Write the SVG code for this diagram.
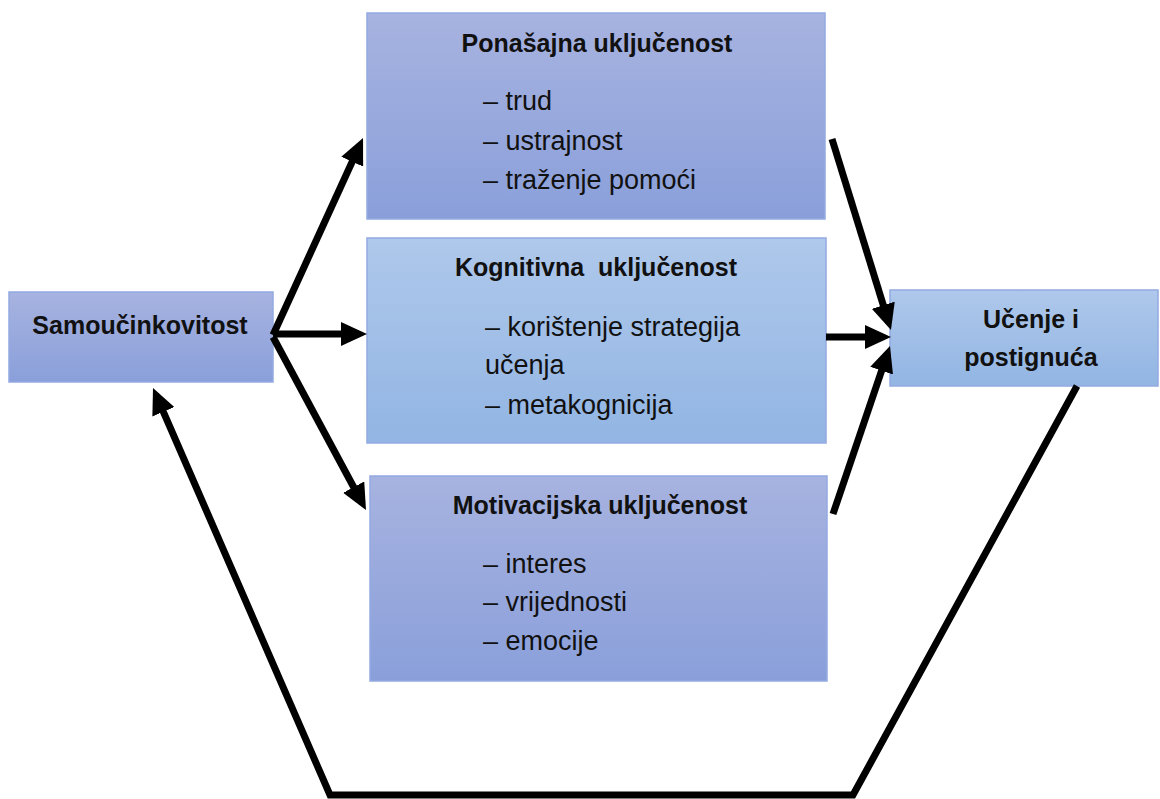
<svg xmlns="http://www.w3.org/2000/svg" width="1160" height="799" viewBox="0 0 1160 799">
<defs>
<linearGradient id="gPurple" x1="0" y1="0" x2="0" y2="1">
<stop offset="0" stop-color="#a7b3e0"/>
<stop offset="1" stop-color="#8a9fda"/>
</linearGradient>
<linearGradient id="gBlue" x1="0" y1="0" x2="0" y2="1">
<stop offset="0" stop-color="#afc8eb"/>
<stop offset="1" stop-color="#92b5e3"/>
</linearGradient>
<marker id="ah" markerUnits="userSpaceOnUse" markerWidth="26" markerHeight="24" viewBox="0 0 26 24" refX="18" refY="12" orient="auto">
<path d="M0,0 L26,12 L0,24 z" fill="#000"/>
</marker>
<style>
.box{stroke:#93aae2;stroke-width:1.5}
.title{font-family:"Liberation Sans",Arial,sans-serif;font-weight:bold;font-size:25px;fill:#111;text-anchor:middle;white-space:pre}
.item{font-family:"Liberation Sans",Arial,sans-serif;font-size:27px;fill:#111}
.conn{stroke:#000;stroke-width:7;fill:none;stroke-linejoin:miter}
</style>
</defs>
<rect width="1160" height="799" fill="#fff"/>

<g id="node-samoucinkovitost">
<rect class="box" x="9" y="292" width="264" height="90" fill="url(#gPurple)"/>
<text class="title" x="140" y="334">Samoučinkovitost</text>
</g>

<g id="node-ponasajna">
<rect class="box" x="367" y="13" width="458" height="206" fill="url(#gPurple)"/>
<text class="title" x="597" y="52">Ponašajna uključenost</text>
<text class="item" x="483" y="110">– trud</text>
<text class="item" x="483" y="150">– ustrajnost</text>
<text class="item" x="483" y="189">– traženje pomoći</text>
</g>

<g id="node-kognitivna">
<rect class="box" x="367" y="238" width="459" height="205" fill="url(#gBlue)"/>
<text class="title" x="596" y="276">Kognitivna  uključenost</text>
<text class="item" x="485" y="336">– korištenje strategija</text>
<text class="item" x="485" y="374">učenja</text>
<text class="item" x="485" y="414">– metakognicija</text>
</g>

<g id="node-motivacijska">
<rect class="box" x="370" y="476" width="457" height="205" fill="url(#gPurple)"/>
<text class="title" x="600" y="514">Motivacijska uključenost</text>
<text class="item" x="483" y="573">– interes</text>
<text class="item" x="483" y="611">– vrijednosti</text>
<text class="item" x="483" y="650">– emocije</text>
</g>

<g id="node-ucenje">
<rect class="box" x="890" y="290" width="268" height="96" fill="url(#gBlue)"/>
<text class="title" x="1031" y="328">Učenje i</text>
<text class="title" x="1031" y="366">postignuća</text>
</g>

<g id="connectors">
<line class="conn" x1="273" y1="335" x2="359.7" y2="145.3" marker-end="url(#ah)"/>
<line class="conn" x1="273" y1="334" x2="359" y2="334" marker-end="url(#ah)"/>
<line class="conn" x1="273" y1="337" x2="362.2" y2="503" marker-end="url(#ah)"/>
<line class="conn" x1="832" y1="139" x2="888.6" y2="322.4" marker-end="url(#ah)"/>
<line class="conn" x1="826" y1="337" x2="883" y2="337" marker-end="url(#ah)"/>
<line class="conn" x1="833" y1="514" x2="887.4" y2="353.6" marker-end="url(#ah)"/>
<polyline class="conn" points="1077,386 853,795 330,795 156.2,395.3" marker-end="url(#ah)"/>
</g>
</svg>
